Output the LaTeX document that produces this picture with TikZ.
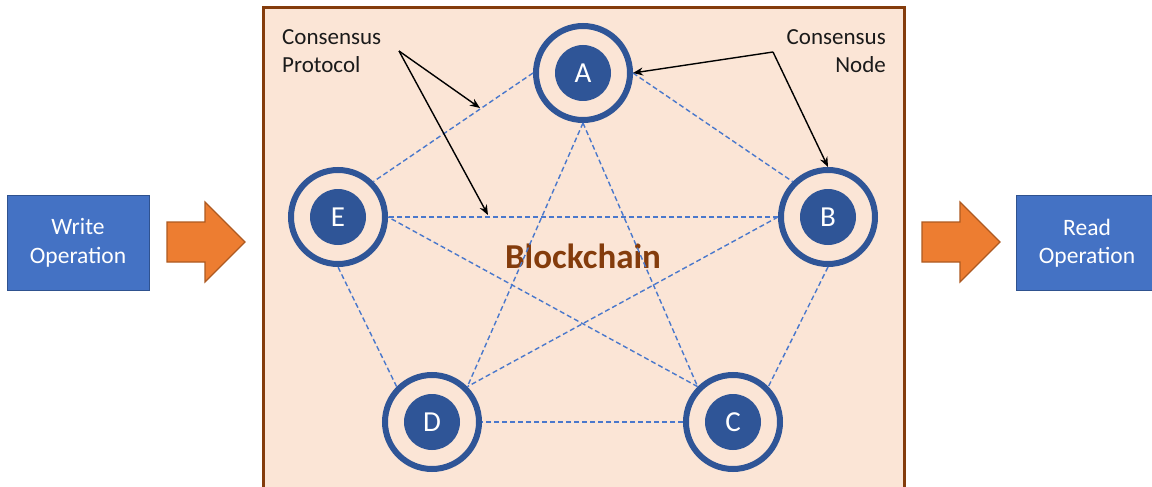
\documentclass[tikz,border=0pt]{standalone}
\usepackage{fontspec}
\setmainfont{Carlito}
\usetikzlibrary{arrows.meta}
\definecolor{panelfill}{HTML}{FBE5D6}
\definecolor{panelline}{HTML}{843C0C}
\definecolor{nodeblue}{HTML}{2F5597}
\definecolor{boxblue}{HTML}{4472C4}
\definecolor{boxline}{HTML}{2F528F}
\definecolor{edgeblue}{HTML}{4A78CC}
\definecolor{arrowfill}{HTML}{ED7D31}
\definecolor{arrowline}{HTML}{AE5A21}
\definecolor{labeltext}{HTML}{1A1A1A}
\begin{document}
\begin{tikzpicture}[x=1pt,y=-1pt,
  panel/.style={fill=panelfill, draw=panelline, line width=3pt},
  cnode/.style={circle, minimum size=94pt, inner sep=0pt, line width=6pt,
    draw=nodeblue, text=white, font=\fontsize{29}{30}\selectfont,
    path picture={\fill[nodeblue] (path picture bounding box.center) circle (28pt);}},
  link/.style={draw=edgeblue, line width=1.4pt, dash pattern=on 5pt off 3pt},
  callout/.style={draw=black, line width=1.4pt, -{Stealth[length=10pt,width=8pt]}},
  opbox/.style={draw=boxline, line width=0.8pt, fill=boxblue, text=white,
    font=\fontsize{23.5}{28.5}\selectfont, align=center, inner sep=0pt,
    minimum width=142pt, minimum height=95pt},
  bigarrow/.style={fill=arrowfill, draw=arrowline, line width=1.2pt, line join=miter},
  lbl/.style={text=labeltext, font=\fontsize{23}{28}\selectfont, inner sep=0pt},
  title/.style={text=panelline, font=\bfseries\fontsize{35}{36}\selectfont, inner sep=0pt}
]
\useasboundingbox (0,0) rectangle (1152,487);
\fill[white] (0,0) rectangle (1152,487);

% panel
\draw[panel] (263,8) rectangle (904,500);

% input / output boxes
\node[opbox] (write) at (78,243) {Write\\Operation};
\node[opbox] (read) at (1087,243) {Read\\Operation};

% big orange arrows
\draw[bigarrow] (167,222) -- (205,222) -- (205,202) -- (245,242) -- (205,282) -- (205,262) -- (167,262) -- cycle;
\draw[bigarrow] (922,222) -- (960,222) -- (960,202) -- (1000,242) -- (960,282) -- (960,262) -- (922,262) -- cycle;

% consensus nodes
\node[cnode] (A) at (583,73) {A};
\node[cnode] (B) at (828,217) {B};
\node[cnode] (C) at (733,422) {C};
\node[cnode] (D) at (432,422) {D};
\node[cnode] (E) at (338,217) {E};

% title
\node[title] (bc) at (583,256) {Blockchain};

% protocol links (complete graph, attached at connection points)
\draw[link] (A.east) -- (B.north west);
\draw[link] (A.south) -- (C.north west);
\draw[link] (A.south) -- (D.north east);
\draw[link] (A.west) -- (E.north east);
\draw[link] (B.south) -- (C.north east);
\draw[link] (B.west) -- (D.north east);
\draw[link] (B.west) -- (E.east);
\draw[link] (C.west) -- (D.east);
\draw[link] (C.north west) -- (E.east);
\draw[link] (D.north west) -- (E.south);

% labels
\node[lbl, anchor=north west, align=left] (cpl) at (282,29) {Consensus\\Protocol};
\node[lbl, anchor=north east, align=right] (cnl) at (886,29) {Consensus\\Node};

% callout arrows
\coordinate (cp) at (399,51);
\coordinate (cpt1) at (480,108);
\coordinate (cpt2) at (488,215);
\coordinate (cn) at (773,52);
\draw[callout] (cp) -- (cpt1);
\draw[callout] (cp) -- (cpt2);
\draw[callout] (cn) -- (A.east);
\draw[callout] (cn) -- (B.north);
\end{tikzpicture}
\end{document}
